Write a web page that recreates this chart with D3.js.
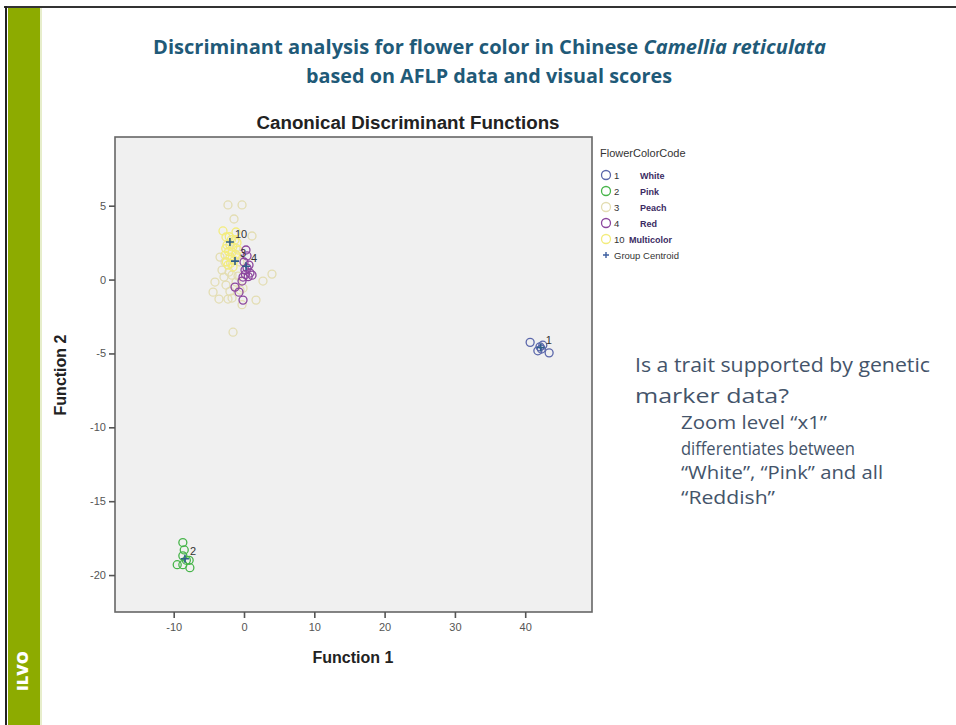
<!DOCTYPE html>
<html><head><meta charset="utf-8">
<script src="https://cdn.jsdelivr.net/npm/d3@7"></script>
<style>body{margin:0;background:#fff;}svg{display:block;}</style>
</head><body>
<svg id="c" width="956" height="725"></svg>
<script>
// ---------------- data ----------------
const groups = [
  {code: "1", name: "White", color: "#5b67ab"},
  {code: "2", name: "Pink", color: "#47b54a"},
  {code: "3", name: "Peach", color: "#e3ddb2"},
  {code: "4", name: "Red", color: "#8c469e"},
  {code: "10", name: "Multicolor", color: "#f3ec7c"}
];
const whitePts = [[40.7,-4.25],[42.1,-4.55],[42.5,-4.44],[43.4,-4.96],[41.8,-4.82],[42.3,-4.7]];
const pinkPts = [[-8.7,-17.8],[-8.5,-18.3],[-8.7,-18.7],[-7.8,-19.0],[-9.5,-19.3],[-8.7,-19.3],[-7.7,-19.5],[-8.2,-19.0]];
const peachPts = [[-2.28,5.05],[-0.28,5.05],[-1.42,4.1],[1.14,2.95],[3.98,0.37],[2.7,-0.1],[-4.13,-0.17],[-4.4,-0.85],
  [-3.56,-1.32],[-2.28,-1.32],[1.71,-1.39],[-1.56,-3.56],[-1.7,-1.25],[-3.13,0.64],[-2.7,1.19],[-3.41,1.52],
  [-1.14,2.13],[-0.57,1.19],[-1.7,0.3],[-1.14,-0.17],[-2.56,-0.37],[-0.57,-0.71],[-2.13,0.51],[-0.85,0.24],
  [-0.14,-0.58],[-2.85,0.17],[-0.28,-1.7],[-1.0,1.6],[-2.0,-0.8]];
const redPts = [[0.28,2.0],[0.43,1.6],[0.0,1.19],[0.71,0.98],[0.14,0.64],[0.85,0.44],[-0.14,0.17],[1.14,0.3],
  [0.43,0.78],[-0.28,-0.1],[-1.28,-0.51],[-0.71,-0.85],[-0.14,-1.39],[0.6,0.2],[0.2,0.35]];
const multiPts = [[-2.99,3.29],[-2.56,2.88],[-1.99,2.34],[-1.99,1.52],[-2.7,1.66],[-1.28,2.68],[-0.85,2.0],
  [-1.56,0.85],[-2.28,0.98],[-1.7,1.86],[-1.14,3.22],[-2.42,2.34],[-1.4,1.3],[-2.1,2.9],[-1.0,2.5],[-2.5,1.2],
  [-1.6,2.2],[-2.2,1.9],[-1.2,1.7],[-1.8,2.7],[-2.6,2.1],[-1.9,1.1]];
const centroids = [
  {code: "1", x: 42.2, y: -4.6},
  {code: "2", x: -8.4, y: -18.9},
  {code: "10", x: -2.0, y: 2.54},
  {code: "3", x: -1.28, y: 1.25},
  {code: "4", x: 0.3, y: 0.9}
];
const xTicks = [-10, 0, 10, 20, 30, 40];
const yTicks = [5, 0, -5, -10, -15, -20];
const xDomain = [-18.35, 49.5];
const yDomain = [-22.5, 9.65];

const pointSets = [
  {code: "3", pts: peachPts},
  {code: "10", pts: multiPts},
  {code: "4", pts: redPts},
  {code: "1", pts: whitePts},
  {code: "2", pts: pinkPts}
];
const bodyLines = [
  {t: "Is a trait supported by genetic", lvl: 0},
  {t: "marker data?", lvl: 0},
  {t: "Zoom level \u201cx1\u201d", lvl: 1},
  {t: "differentiates between", lvl: 1},
  {t: "\u201cWhite\u201d, \u201cPink\u201d and all", lvl: 1},
  {t: "\u201cReddish\u201d", lvl: 1}
];

// ---------------- drawing ----------------
const svg = d3.select("#c");
const colorOf = c => groups.find(g => g.code === c).color;

// slide frame
svg.append("rect").attr("x", 0).attr("y", 0).attr("width", 956).attr("height", 725).attr("fill", "#fff");
svg.append("rect").attr("x", 8).attr("y", 8).attr("width", 32).attr("height", 717).attr("fill", "#8dab00");
svg.append("line").attr("x1", 41).attr("x2", 41).attr("y1", 8).attr("y2", 725).attr("stroke", "#cfdc98").attr("stroke-width", 1);
svg.append("line").attr("x1", 4).attr("x2", 956).attr("y1", 7).attr("y2", 7).attr("stroke", "#333").attr("stroke-width", 2);
svg.append("line").attr("x1", 6).attr("x2", 6).attr("y1", 6).attr("y2", 725).attr("stroke", "#222").attr("stroke-width", 2);
svg.append("text").attr("transform", "translate(28,671) rotate(-90)").attr("text-anchor", "middle")
  .attr("font-family", "Open Sans, sans-serif").attr("font-weight", "800").attr("font-size", 16)
  .attr("fill", "#fff").attr("textLength", 40).attr("lengthAdjust", "spacingAndGlyphs").text("ILVO");

// slide title
const tFont = "Open Sans, sans-serif";
const t1 = svg.append("text").attr("x", 489.5).attr("y", 54).attr("text-anchor", "middle")
  .attr("font-family", tFont).attr("font-weight", "bold").attr("font-size", 19).attr("fill", "#1f5a78")
  .attr("textLength", 673).attr("lengthAdjust", "spacingAndGlyphs");
t1.append("tspan").text("Discriminant analysis for flower color in Chinese ");
t1.append("tspan").attr("font-style", "italic").text("Camellia reticulata");
svg.append("text").attr("x", 489).attr("y", 83).attr("text-anchor", "middle")
  .attr("font-family", tFont).attr("font-weight", "bold").attr("font-size", 19).attr("fill", "#1f5a78")
  .attr("textLength", 366).attr("lengthAdjust", "spacingAndGlyphs")
  .text("based on AFLP data and visual scores");

// plot
const L = 115, R = 592, T = 137, B = 612;
const x = d3.scaleLinear().domain(xDomain).range([L, R]);
const y = d3.scaleLinear().domain(yDomain).range([B, T]);

const axFont = "Liberation Sans, Arial, sans-serif";
svg.append("text").attr("x", 408).attr("y", 129).attr("text-anchor", "middle")
  .attr("font-family", axFont).attr("font-weight", "bold").attr("font-size", 18)
  .attr("textLength", 303).attr("lengthAdjust", "spacingAndGlyphs")
  .attr("fill", "#222").text("Canonical Discriminant Functions");

svg.append("rect").attr("x", L).attr("y", T).attr("width", R - L).attr("height", B - T)
  .attr("fill", "#f0f0f0").attr("stroke", "#666").attr("stroke-width", 1.6);

const xAxis = svg.append("g").attr("transform", `translate(0,${B})`)
  .call(d3.axisBottom(x).tickValues(xTicks).tickSize(6).tickPadding(5).tickFormat(d => String(d)));
const yAxis = svg.append("g").attr("transform", `translate(${L},0)`)
  .call(d3.axisLeft(y).tickValues(yTicks).tickSize(6).tickPadding(3).tickFormat(d => String(d)));
[xAxis, yAxis].forEach(a => {
  a.select(".domain").remove();
  a.selectAll(".tick line").attr("stroke", "#555").attr("stroke-width", 1.6);
  a.selectAll(".tick text").attr("font-family", axFont).attr("font-size", 11).attr("fill", "#555");
});

svg.append("text").attr("x", 353).attr("y", 663).attr("text-anchor", "middle")
  .attr("font-family", axFont).attr("font-weight", "bold").attr("font-size", 16).attr("fill", "#222").text("Function 1");
svg.append("text").attr("transform", "translate(66,375) rotate(-90)").attr("text-anchor", "middle")
  .attr("font-family", axFont).attr("font-weight", "bold").attr("font-size", 16).attr("fill", "#222").text("Function 2");

// points
pointSets.forEach(s => {
  svg.append("g").selectAll("circle").data(s.pts).join("circle")
    .attr("cx", d => x(d[0])).attr("cy", d => y(d[1])).attr("r", 4)
    .attr("fill", "none").attr("stroke", colorOf(s.code)).attr("stroke-width", 1.3);
});

// centroids
const cg = svg.append("g");
centroids.forEach(c => {
  const cx = x(c.x), cy = y(c.y);
  cg.append("path").attr("d", `M${cx-4},${cy}H${cx+4}M${cx},${cy-4}V${cy+4}`)
    .attr("stroke", "#2f5f8a").attr("stroke-width", 1.6);
  cg.append("text").attr("x", cx + 5).attr("y", cy - 4).attr("font-family", axFont).attr("font-size", 11)
    .attr("fill", "#333").text(c.code);
});

// legend
const lg = svg.append("g");
lg.append("text").attr("x", 600).attr("y", 157).attr("font-family", axFont).attr("font-size", 11)
  .attr("fill", "#333").text("FlowerColorCode");
groups.forEach((g, i) => {
  const yy = 175 + i * 16;
  lg.append("circle").attr("cx", 606).attr("cy", yy).attr("r", 4.5).attr("fill", "none")
    .attr("stroke", g.color).attr("stroke-width", 1.3);
  lg.append("text").attr("x", 614).attr("y", yy + 3.5).attr("font-family", axFont).attr("font-size", 9.5)
    .attr("fill", "#333").text(g.code);
  lg.append("text").attr("x", g.code.length > 1 ? 629 : 640).attr("y", yy + 3.5).attr("font-family", axFont)
    .attr("font-size", 9).attr("font-weight", "bold").attr("fill", "#3b2b63").text(g.name);
});
{
  const yy = 175 + groups.length * 16;
  lg.append("path").attr("d", `M603,${yy}H609M606,${yy-3}V${yy+3}`).attr("stroke", "#3d5fa0").attr("stroke-width", 1.4);
  lg.append("text").attr("x", 614).attr("y", yy + 3.5).attr("font-family", axFont).attr("font-size", 9.5)
    .attr("fill", "#333").text("Group Centroid");
}

// body text
const bodyY = [372, 403, 429, 455, 479, 504];
const bodyW = [295, 154, 146, 174, 202, 94];
bodyLines.forEach((l, i) => {
  svg.append("text").attr("x", l.lvl ? 681 : 635).attr("y", bodyY[i])
    .attr("font-family", tFont).attr("font-size", l.lvl ? 17.5 : 20).attr("fill", "#44546a")
    .attr("textLength", bodyW[i]).attr("lengthAdjust", "spacingAndGlyphs").text(l.t);
});
</script>
</body></html>
